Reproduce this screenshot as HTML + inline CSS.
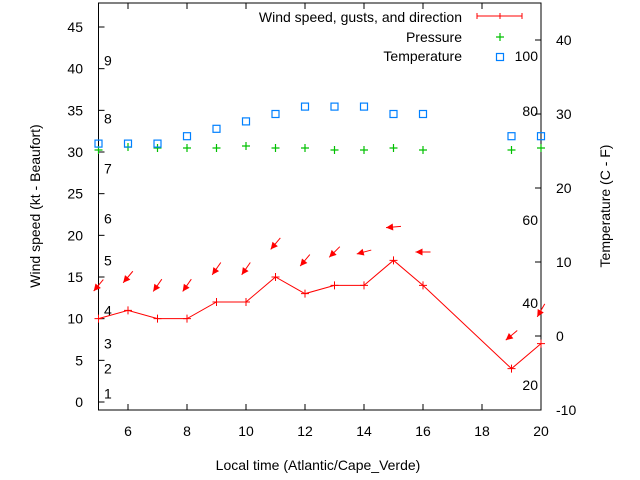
<!DOCTYPE html>
<html><head><meta charset="utf-8"><style>
body{margin:0;background:#fff}
svg{display:block;font-family:"Liberation Sans",sans-serif;font-size:14px}
</style></head><body>
<svg id="c" width="640" height="480"></svg>
<script>
const hours=[5,6,7,8,9,10,11,12,13,14,15,16,19,20];
const windSpeed=[10,11,10,10,12,12,15,13,14,14,17,14,4,7];
const gusts=[14,15,14,14,16,16,19,17,18,18,21,18,8,11];
const windDir=[40,40,35,35,35,35,40,40,45,75,85,90,50,30];
const pressure=[1013,1014.5,1014,1014,1014,1015,1014,1014,1013,1013,1014,1013,1013,1014];
const temperature=[26,26,26,27,28,29,30,31,31,31,30,30,27,27];
const leftTicks=[0,5,10,15,20,25,30,35,40,45];
const rightTicks=[-10,0,10,20,30,40];
const xTicks=[6,8,10,12,14,16,18,20];
const beaufortKt=[1,4,7,11,17,22,28,34,41];
const beaufortLabels=["1","2","3","4","5","6","7","8","9"];
const humidityLabels=["100","80","60","40","20"];
const humidityY=[56,111,220,303,385];

const NS="http://www.w3.org/2000/svg",svg=document.getElementById('c');
const L=98.5,R=541,T=3,B=410;
const xs=h=>L+(h-5)*(R-L)/15;
const yl=v=>402-v*(375/45);
const yr=v=>336-v*7.4;
const yp=p=>148-(p-1014)*2;
function el(t,a,p){const e=document.createElementNS(NS,t);for(const k in a)e.setAttribute(k,a[k]);(p||svg).appendChild(e);return e;}
function txt(x,y,s,anchor,p){const e=el('text',{x:x,y:y,'text-anchor':anchor||'start',fill:'#000'},p);e.textContent=s;return e;}

let e=el('rect',{x:L,y:T,width:R-L,height:B-T,fill:'none',stroke:'#000','stroke-width':1});


leftTicks.forEach(v=>{const y=yl(v);
 el('line',{x1:L,y1:y,x2:L+6,y2:y,stroke:'#000'});
 const t=txt(83,y+5,String(v),'end');
 
 });
rightTicks.forEach(v=>{const y=yr(v);
 el('line',{x1:R-6,y1:y,x2:R,y2:y,stroke:'#000'});
 const t=txt(556,y+5,String(v),'start');
 
 });
xTicks.forEach(v=>{const x=xs(v);
 el('line',{x1:x,y1:B,x2:x,y2:B-6,stroke:'#000'});
 el('line',{x1:x,y1:T,x2:x,y2:T+6,stroke:'#000'});
 const t=txt(x,436,String(v),'middle');
 
 });
beaufortKt.forEach((k,i)=>{const t=txt(104,yl(k)+5,beaufortLabels[i],'start');
 
 });
humidityLabels.forEach((s,i)=>{const t=txt(538,humidityY[i]+5,s,'end');
 
 });

let a=txt(318,470,'Local time (Atlantic/Cape_Verde)','middle');


a=el('text',{x:0,y:0,'text-anchor':'middle',transform:'translate(40,206) rotate(-90)'});a.textContent='Wind speed (kt - Beaufort)';


a=el('text',{x:0,y:0,'text-anchor':'middle',transform:'translate(610,206) rotate(-90)'});a.textContent='Temperature (C - F)';



pressure.forEach((p,i)=>{const x=xs(hours[i]),y=yp(p);
 const g=el('path',{d:`M${x-4},${y}H${x+4}M${x},${y-4}V${y+4}`,stroke:'#00c000','stroke-width':1.2,fill:'none'});
 
 });
temperature.forEach((v,i)=>{const x=xs(hours[i]),y=yr(v);
 const g=el('rect',{x:x-3.5,y:y-3.5,width:7,height:7,fill:'none',stroke:'#0080ff','stroke-width':1.2});
 
 });
const pts=hours.map((h,i)=>xs(h)+','+yl(windSpeed[i])).join(' ');
const wl=el('polyline',{points:pts,fill:'none',stroke:'#f00','stroke-width':1});


windSpeed.forEach((v,i)=>{const x=xs(hours[i]),y=yl(v);
 const g=el('path',{d:`M${x-4},${y}H${x+4}M${x},${y-4}V${y+4}`,stroke:'#f00',fill:'none'});
 
 });
gusts.forEach((v,i)=>{const cx=xs(hours[i]),cy=yl(v),d=windDir[i]*Math.PI/180;
 const ux=-Math.sin(d),uy=Math.cos(d),len=15;
 const hx=cx+ux*len/2,hy=cy+uy*len/2,tx=cx-ux*len/2,ty=cy-uy*len/2;
 const g=el('g',{});
 
 
 el('line',{x1:tx,y1:ty,x2:hx,y2:hy,stroke:'#f00','stroke-width':1},g);
 const px=-uy,py=ux,bx=hx-ux*7,by=hy-uy*7;
 el('polygon',{points:`${hx},${hy} ${bx+px*3.5},${by+py*3.5} ${bx-px*3.5},${by-py*3.5}`,fill:'#f00'},g);});

const lg=el('g',{});


txt(462,22,'Wind speed, gusts, and direction','end',lg);
el('path',{d:'M477,16H522M477,13V19M522,13V19M500,13V19',stroke:'#f00',fill:'none'},lg);
txt(462,42,'Pressure','end',lg);
el('path',{d:'M496,37H504M500,33V41',stroke:'#00c000',fill:'none','stroke-width':1.2},lg);
txt(462,61,'Temperature','end',lg);
el('rect',{x:496.5,y:53.5,width:7,height:7,fill:'none',stroke:'#0080ff','stroke-width':1.2},lg);
</script>
</body></html>
